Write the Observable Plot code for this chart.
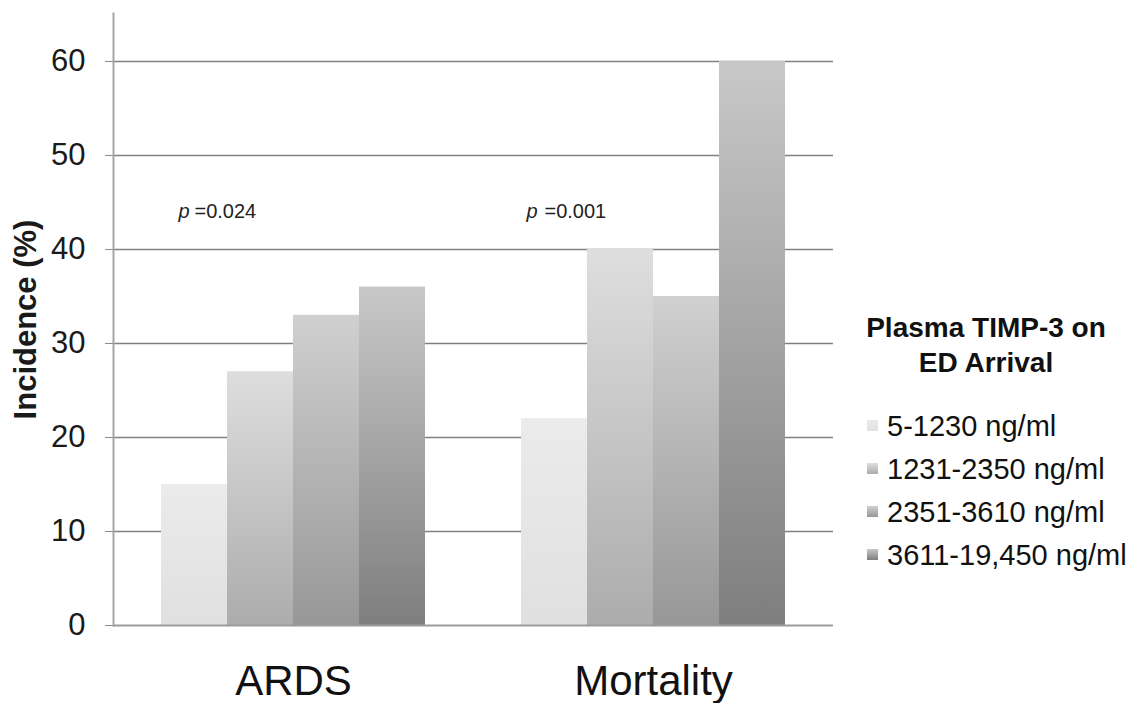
<!DOCTYPE html>
<html>
<head>
<meta charset="utf-8">
<script src="https://cdn.jsdelivr.net/npm/d3@7"></script>
<script src="https://cdn.jsdelivr.net/npm/@observablehq/plot@0.6"></script>
<style>
  html, body { margin: 0; padding: 0; background: #fff; }
  #wrap { position: relative; width: 1129px; height: 703px; font-family: "Liberation Sans", Arial, sans-serif; }
  #chart { position: absolute; left: 0; top: 0; }
  #chart svg { font-family: "Liberation Sans", Arial, sans-serif; }
  #chart g[aria-label="y-axis label"] text { font-weight: bold; }
  #legend { position: absolute; left: 850px; top: 310px; width: 279px; color: #111; }
  #legend .title { font-weight: bold; font-size: 28px; line-height: 35px; text-align: center; width: 272px; }
  #legend .items { margin-top: 30px; }
  #legend .item { position: relative; height: 43px; font-size: 29px; line-height: 32px; white-space: nowrap; }
  #legend .sw { position: absolute; left: 17px; top: 10px; width: 11px; height: 11px; }
  #legend .lab { position: absolute; left: 37px; top: 0; }
</style>
</head>
<body>
<div id="wrap">
  <div id="chart"></div>
  <div id="legend"></div>
</div>
<script>
// ---- data ----
const categories = ["ARDS", "Mortality"];
const series = ["5-1230 ng/ml", "1231-2350 ng/ml", "2351-3610 ng/ml", "3611-19,450 ng/ml"];
const ardsValues = [15, 27, 33, 36];
const mortalityValues = [22, 40, 35, 60];
const yTicks = [0, 10, 20, 30, 40, 50, 60];
const gridTicks = [10, 20, 30, 40, 50, 60];
const pLabels = [
  {category: "ARDS", y: 44, value: "=0.024"},
  {category: "Mortality", y: 44, value: "=0.001"}
];
const legendTitle = ["Plasma TIMP-3 on", "ED Arrival"];
// gradient stops (top, bottom) per series
const gradTop = ["#ebebeb", "#dedede", "#d0d0d0", "#c8c8c8"];
const gradBottom = ["#e0e0e0", "#acacac", "#979797", "#7e7e7e"];

const table = [];
categories.forEach((c, ci) => {
  const vals = ci === 0 ? ardsValues : mortalityValues;
  series.forEach((s, si) => table.push({category: c, series: s, si, value: vals[si]}));
});

const bars = series.map((s, si) =>
  Plot.barY(table.filter(d => d.si === si), {
    fx: "category", x: "series", y: "value", fill: `url(#grad${si})`
  })
);

const plot = Plot.plot({
  width: 1129,
  height: 703,
  marginLeft: 113,
  marginRight: 296,
  marginTop: 13,
  marginBottom: 78,
  style: {fontFamily: "Liberation Sans, Arial, sans-serif", color: "#1a1a1a"},
  fx: {domain: categories, padding: 0},
  x: {domain: series, paddingInner: 0, paddingOuter: 0.727, axis: null},
  y: {domain: [0, 65.1]},
  marks: [
    Plot.gridY(gridTicks, {stroke: "#808080", strokeOpacity: 1, strokeWidth: 1.5}),
    ...bars,
    Plot.ruleY([0], {stroke: "#9c9c9c", strokeWidth: 2}),
    Plot.frame({anchor: "left", facetAnchor: "left", stroke: "#a6a6a6", strokeWidth: 2}),
    Plot.axisY({
      ticks: yTicks, tickSize: 8, tickPadding: 20, fontSize: 31,
      stroke: "#8a8a8a", fill: "#1a1a1a",
      label: "Incidence (%)", labelAnchor: "center", labelArrow: "none", labelOffset: 100
    }),
    Plot.axisFx({anchor: "bottom", tickSize: 0, tickPadding: 40, fontSize: 42, label: null, fill: "#111"}),
    Plot.text(pLabels.filter(d => d.category === "ARDS"), {
      fx: "category", x: () => series[0], y: "y", text: () => "p",
      textAnchor: "end", dx: -5, fontSize: 20, fontStyle: "italic", fill: "#222"
    }),
    Plot.text(pLabels.filter(d => d.category === "ARDS"), {
      fx: "category", x: () => series[0], y: "y", text: "value",
      textAnchor: "start", dx: 0, fontSize: 20, fill: "#222"
    }),
    Plot.text(pLabels.filter(d => d.category === "Mortality"), {
      fx: "category", x: () => series[0], y: "y", text: () => "p",
      textAnchor: "end", dx: -17, fontSize: 20, fontStyle: "italic", fill: "#222"
    }),
    Plot.text(pLabels.filter(d => d.category === "Mortality"), {
      fx: "category", x: () => series[0], y: "y", text: "value",
      textAnchor: "start", dx: -10, fontSize: 20, fill: "#222"
    })
  ]
});

// gradient definitions
const svg = d3.select(plot);
const defs = svg.insert("defs", ":first-child");
series.forEach((s, si) => {
  const g = defs.append("linearGradient").attr("id", `grad${si}`)
    .attr("x1", 0).attr("y1", 0).attr("x2", 0).attr("y2", 1);
  g.append("stop").attr("offset", "0%").attr("stop-color", gradTop[si]);
  g.append("stop").attr("offset", "100%").attr("stop-color", gradBottom[si]);
});

document.getElementById("chart").appendChild(plot);

// legend
const legend = d3.select("#legend");
legend.append("div").attr("class", "title").html(legendTitle.join("<br>"));
const items = legend.append("div").attr("class", "items");
series.forEach((s, si) => {
  const it = items.append("div").attr("class", "item");
  it.append("div").attr("class", "sw")
    .style("background", `linear-gradient(${gradTop[si]}, ${gradBottom[si]})`);
  it.append("div").attr("class", "lab").text(s);
});
</script>
</body>
</html>
